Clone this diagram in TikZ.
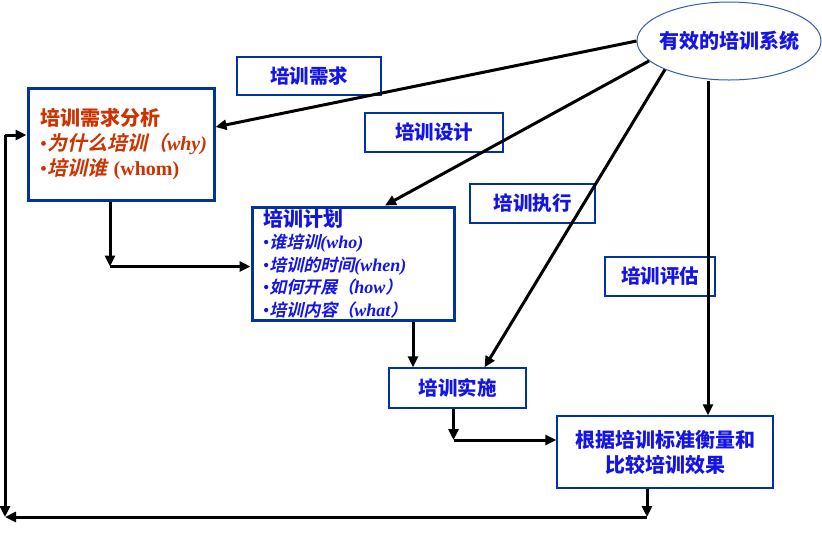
\documentclass[tikz,border=0pt]{standalone}
\usepackage{fontspec}
\setmainfont{Liberation Serif}
\newfontfamily\zh{Noto Sans CJK SC}[
  ItalicFont={Noto Sans CJK SC},ItalicFeatures={FakeSlant=0.22},
  BoldItalicFont={Noto Sans CJK SC Bold},BoldItalicFeatures={FakeSlant=0.22}]
\usetikzlibrary{arrows.meta,positioning,calc,shapes.geometric}
\definecolor{boxblue}{HTML}{0033A0}
\definecolor{txtblue}{HTML}{1414E6}
\definecolor{txtred}{HTML}{CC3300}

\begin{document}
\begin{tikzpicture}[x=1pt,y=-1pt,
  tag/.style={draw=boxblue,line width=1.3pt,inner sep=0pt,text=txtblue,
    font=\zh\bfseries\fontsize{19.5}{23}\selectfont},
  stage/.style={draw=boxblue,line width=3pt,inner sep=0pt,align=left},
  conn/.style={-{Triangle[length=11pt,width=10pt]},line width=3pt,black}]
\useasboundingbox (0,0) rectangle (822,550);
% System ellipse
\node[ellipse,draw=boxblue!80,line width=1pt,minimum width=184pt,minimum height=78pt,
  inner xsep=-10pt,inner ysep=0pt,text=txtblue,font=\zh\bfseries\fontsize{20}{24}\selectfont]
  (sys) at (729,41) {有效的培训系统};
% Phase labels
\node[tag,minimum width=144pt,minimum height=38pt] (lneed) at (309,76) {培训需求};
\node[tag,minimum width=138pt,minimum height=39pt] (ldesign) at (434,132.5) {培训设计};
\node[tag,minimum width=125pt,minimum height=39pt] (lexec) at (532.5,203.5) {培训执行};
\node[tag,minimum width=110pt,minimum height=39pt] (leval) at (660,276.5) {培训评估};
% Main stages
\node[stage,minimum width=186pt,minimum height=112pt,text width=162pt,inner xsep=12pt,
  text=txtred,font=\fontsize{20}{25}\selectfont] (analysis) at (121,144)
  {{\zh\bfseries 培训需求分析}\\
   \textbullet{\zh\bfseries\itshape 为什么培训（}{\bfseries\itshape why)}\\
   \textbullet{\zh\bfseries\itshape 培训谁} {\bfseries (whom)}};
\node[stage,minimum width=202pt,minimum height=113pt,text width=180pt,inner xsep=11pt,
  text=txtblue,font=\fontsize{18}{22.5}\selectfont] (plan) at (353,263.5)
  {{\zh\bfseries\fontsize{20}{22.5}\selectfont 培训计划}\\
   \textbullet{\zh\bfseries\itshape\fontsize{17}{22.5}\selectfont 谁培训}{\bfseries\itshape (who)}\\
   \textbullet{\zh\bfseries\itshape\fontsize{17}{22.5}\selectfont 培训的时间}{\bfseries\itshape (when)}\\
   \textbullet{\zh\bfseries\itshape\fontsize{17}{22.5}\selectfont 如何开展（}{\bfseries\itshape how}{\zh\bfseries\itshape\fontsize{17}{22.5}\selectfont ）}\\
   \textbullet{\zh\bfseries\itshape\fontsize{17}{22.5}\selectfont 培训内容（}{\bfseries\itshape what}{\zh\bfseries\itshape\fontsize{17}{22.5}\selectfont ）}};
\node[tag,minimum width=137pt,minimum height=40pt] (impl) at (457.5,388) {培训实施};
\node[tag,minimum width=216pt,minimum height=72pt,align=center,
  font=\zh\bfseries\fontsize{20}{25}\selectfont] (result) at (665,452)
  {根据培训标准衡量和\\比较培训效果};
% Corner points
\coordinate (a1) at ([xshift=-11pt]analysis.south);
\coordinate (p1) at ([yshift=-3pt]plan.west);
\coordinate (p2) at ([xshift=60pt]plan.south);
\coordinate (i1) at ([xshift=-4pt]impl.south);
\coordinate (r1) at ([yshift=12pt]result.west);
\coordinate (c1) at (a1 |- p1);
\coordinate (c2) at (i1 |- r1);
\coordinate (c3) at (647,517);
\coordinate (c4) at (5,517);
\coordinate (c5) at (5,135);
% Connectors from the system
\draw[conn] (sys.west) -- ([yshift=17pt]analysis.east);
\draw[conn] (sys.194) -- ([xshift=32pt]plan.north);
\draw[conn] (sys.204) -- ([xshift=27pt]impl.north);
\draw[conn] ([xshift=-21pt]sys.south) -- ([xshift=43pt]result.north);
% Flow between stages
\draw[conn] (a1) -- (c1);
\draw[conn] (c1) -- (p1);
\draw[conn] (p2) -- (p2 |- impl.north);
\draw[conn] (i1) -- (c2);
\draw[conn] (c2) -- (r1);
% Feedback loop
\draw[conn] ([xshift=-18pt]result.south) -- (c3);
\draw[conn] (c3) -- (c4);
\draw[conn] (c5) -- (c4);
\draw[conn] (c5) -- (c5 -| analysis.west);
\end{tikzpicture}
\end{document}
